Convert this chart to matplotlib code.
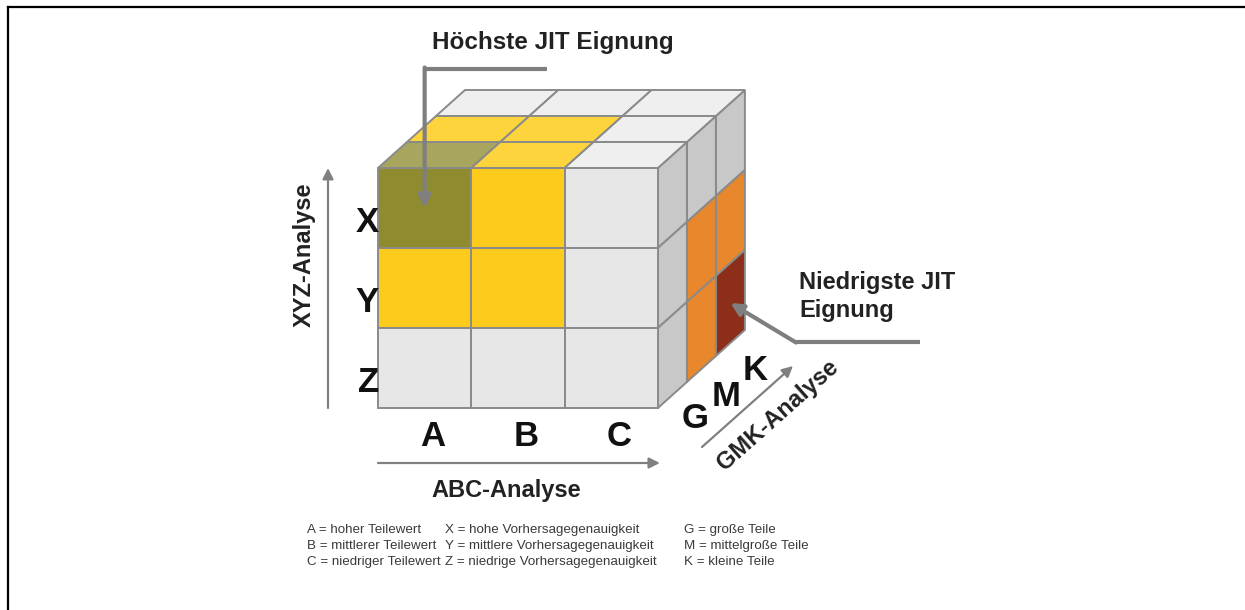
"""
JIT-Eignung: ABC / XYZ / GMK Würfel
"""
import numpy as np
import matplotlib.pyplot as plt
from matplotlib.patches import Polygon

plt.rcParams['font.family'] = ['Liberation Sans', 'DejaVu Sans']

# Achsen-Kategorien
cols = ["A", "B", "C"]        # ABC-Analyse (links -> rechts)
rows = ["X", "Y", "Z"]        # XYZ-Analyse (oben -> unten)
depths = ["G", "M", "K"]      # GMK-Analyse (vorne -> hinten)

# Farbklassen der sichtbaren Flächen
front_colors = [["olive", "yellow", "grey"],      # Zeile X
                ["yellow", "yellow", "grey"],     # Zeile Y
                ["grey", "grey", "grey"]]         # Zeile Z
top_colors = [["olive", "yellow", "grey"],        # Tiefe G
              ["yellow", "yellow", "grey"],       # Tiefe M
              ["grey", "grey", "grey"]]           # Tiefe K
side_colors = [["grey", "grey", "grey"],          # Zeile X (G, M, K)
               ["grey", "orange", "orange"],      # Zeile Y
               ["grey", "orange", "brown"]]       # Zeile Z

legend_cols = [
    ["A = hoher Teilewert", "B = mittlerer Teilewert", "C = niedriger Teilewert"],
    ["X = hohe Vorhersagegenauigkeit", "Y = mittlere Vorhersagegenauigkeit",
     "Z = niedrige Vorhersagegenauigkeit"],
    ["G = große Teile", "M = mittelgroße Teile", "K = kleine Teile"],
]

palette = {
    "front": {"olive": "#8e8c2e", "yellow": "#fdcb1c", "grey": "#e7e7e7"},
    "top": {"olive": "#a8a55e", "yellow": "#fdd43c", "grey": "#efefef"},
    "side": {"grey": "#c8c8c8", "orange": "#e8872b", "brown": "#8c2e19"},
}
EDGE = "#8a8a8a"
ARROW = "#808080"

# Geometrie (Pixel)
X0, Y0 = 378, 408
CW, CH = 93.3, 80
DX, DY = 29, -26


def proj(i, j, k):
    """i = Spalte, j = Höhe von unten, k = Tiefe"""
    return (X0 + i * CW + k * DX, Y0 - j * CH + k * DY)


def face(ax, pts, color):
    ax.add_patch(Polygon(pts, closed=True, facecolor=color, edgecolor=EDGE,
                         linewidth=1.4, joinstyle='miter'))


fig = plt.figure(figsize=(12.45, 6.10), dpi=100)
ax = fig.add_axes([0, 0, 1, 1])
ax.set_xlim(0, 1245)
ax.set_ylim(610, 0)
ax.axis('off')

# Rahmen oben/links
ax.plot([8, 1245], [7, 7], color='black', lw=1.6, solid_capstyle='projecting')
ax.plot([8, 8], [7, 610], color='black', lw=1.6, solid_capstyle='projecting')

n = len(cols)
# von hinten nach vorne zeichnen
for k in reversed(range(len(depths))):
    for r in range(len(rows)):
        j = n - 1 - r
        pts = [proj(n, j, k), proj(n, j, k + 1), proj(n, j + 1, k + 1), proj(n, j + 1, k)]
        face(ax, pts, palette["side"][side_colors[r][k]])
    for i in range(n):
        pts = [proj(i, n, k), proj(i + 1, n, k), proj(i + 1, n, k + 1), proj(i, n, k + 1)]
        face(ax, pts, palette["top"][top_colors[k][i]])
for r in range(len(rows)):
    j = n - 1 - r
    for i in range(n):
        pts = [proj(i, j, 0), proj(i + 1, j, 0), proj(i + 1, j + 1, 0), proj(i, j + 1, 0)]
        face(ax, pts, palette["front"][front_colors[r][i]])

big = dict(fontsize=25, fontweight='bold', color='#111111')
lab = dict(fontsize=17, fontweight='bold', color='#222222')

# Achsenbeschriftungen
for r, name in enumerate(rows):
    j = n - 1 - r
    ax.text(X0 + 1, proj(0, j + 0.5, 0)[1] + 15, name, ha='right', va='center', **big)
for i, name in enumerate(cols):
    ax.text(proj(i + 0.5, 0, 0)[0] + 8, 437, name, ha='center', va='center', **big)
gmk_pos = [(695, 418), (726, 396), (755, 370)]
for (gx, gy), name in zip(gmk_pos, depths):
    ax.text(gx, gy, name, ha='center', va='center', **big)

arr = dict(arrowstyle='-|>', color=ARROW, lw=1.6, mutation_scale=16,
           shrinkA=0, shrinkB=0)
ax.annotate('', xy=(328, Y0 - n * CH), xytext=(328, Y0), arrowprops=arr)
ax.annotate('', xy=(X0 + n * CW + 2, 463), xytext=(X0, 463), arrowprops=arr)
ax.annotate('', xy=(793, 366), xytext=(702, 447), arrowprops=arr)

ax.text(304, 255, "XYZ-Analyse", rotation=90, ha='center', va='center', **lab)
ax.text(506, 490, "ABC-Analyse", ha='center', va='center', **lab)
ax.text(778, 415, "GMK-Analyse", rotation=41.7, ha='center', va='center',
        rotation_mode='anchor', **lab)

# Callouts
call = dict(arrowstyle='-|>', color='#7f7f7f', lw=3, mutation_scale=18,
            shrinkA=0, shrinkB=0)
tip_hi = proj(0.5, n - 0.5, 0)
ax.plot([547, tip_hi[0]], [69, 69], color='#7f7f7f', lw=3, solid_capstyle='butt')
ax.annotate('', xy=tip_hi, xytext=(tip_hi[0], 67.5), arrowprops=call)
ax.text(432, 43, "Höchste JIT Eignung", ha='left', va='center',
        fontsize=17.5, fontweight='bold', color='#222222')

tip_lo = proj(n, 0.5, 2.5)
ax.plot([920, 795], [342, 342], color='#7f7f7f', lw=3, solid_capstyle='butt')
ax.annotate('', xy=tip_lo, xytext=(796, 342.5), arrowprops=call)
ax.text(799, 283, "Niedrigste JIT", ha='left', va='center',
        fontsize=17, fontweight='bold', color='#222222')
ax.text(799, 311, "Eignung", ha='left', va='center',
        fontsize=17, fontweight='bold', color='#222222')

# Legende
legend_x = [307, 445, 684]
legend_y = [530, 546, 562]
for lx, entries in zip(legend_x, legend_cols):
    for ly, txt in zip(legend_y, entries):
        ax.text(lx, ly, txt, ha='left', va='center', fontsize=9.6, color='#3a3a3a')

fig.savefig('out.png', dpi=100, facecolor='white')
